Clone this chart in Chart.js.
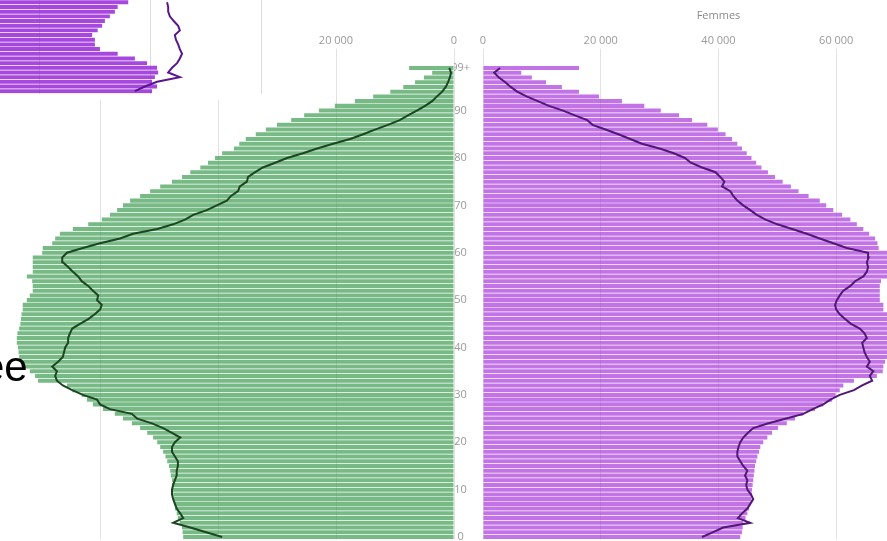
<!DOCTYPE html>
<html lang="fr">
<head>
<meta charset="utf-8">
<title>Pyramide des âges</title>
<script src="https://cdn.jsdelivr.net/npm/chart.js@4/dist/chart.umd.min.js"></script>
<style>
  html, body { margin: 0; padding: 0; background: #fff; overflow: hidden; }
  #page { position: relative; width: 887px; height: 541px; overflow: hidden; background: #fff; }
  #hommes { position: absolute; left: -28px; top: 0; }
  #femmes { position: absolute; left: 454px; top: 0; }
  #encart { position: absolute; left: 0; top: 0; background: #fff; }
  #mot { position: absolute; left: -19px; top: 346px; font: 42px/42px 'Liberation Sans', Arial, sans-serif; color: #000; white-space: nowrap; }
</style>
</head>
<body>
<div id="page">
  <canvas id="hommes" width="511" height="560"></canvas>
  <canvas id="femmes" width="520" height="560"></canvas>
  <canvas id="encart" width="300" height="100"></canvas>
  <div id="mot">ee</div>
</div>
<script>
// Ages, from 0 up to 99+
const ages = ['0','1','2','3','4','5','6','7','8','9',
  '10','11','12','13','14','15','16','17','18','19',
  '20','21','22','23','24','25','26','27','28','29',
  '30','31','32','33','34','35','36','37','38','39',
  '40','41','42','43','44','45','46','47','48','49',
  '50','51','52','53','54','55','56','57','58','59',
  '60','61','62','63','64','65','66','67','68','69',
  '70','71','72','73','74','75','76','77','78','79',
  '80','81','82','83','84','85','86','87','88','89',
  '90','91','92','93','94','95','96','97','98','99+'];

// Hommes (bars) by age
const hommes = [45900, 46000, 46100, 46500, 46800, 47000, 47300, 47400, 47500, 47600,
  47700, 47800, 47800, 48000, 48100, 48300, 48600, 48900, 49300, 49800,
  50300, 51000, 52000, 53200, 54600, 56100, 57500, 59500, 61200, 62200,
  63100, 64700, 65600, 70500, 71000, 71900, 72700, 73200, 73700, 73800,
  73900, 74100, 74100, 74000, 73700, 73500, 73400, 73300, 73100, 73100,
  72400, 71900, 71400, 71400, 71500, 72400, 71400, 71400, 71400, 71400,
  69800, 69700, 68100, 67600, 66800, 64600, 62000, 59700, 58300, 57100,
  56100, 54900, 53200, 51500, 49800, 47800, 46100, 44700, 43000, 41700,
  40500, 39300, 37300, 36400, 35300, 33600, 31900, 30000, 27600, 25400,
  22900, 20200, 16800, 13700, 10800, 8600, 6600, 5100, 3700, 7600];

// Hommes, comparison line
const hommesLigne = [39300, 42000, 44700, 47600, 45900, 46400, 47000, 47300, 47600, 47800,
  47800, 47600, 47300, 47000, 47000, 46800, 46800, 47300, 47800, 47800,
  47300, 46400, 47800, 49300, 51200, 53700, 54600, 58300, 60000, 60500,
  62900, 64700, 66300, 67300, 67600, 67300, 68100, 67100, 66300, 66100,
  65900, 65400, 65400, 65100, 64700, 63400, 62000, 60900, 60000, 59700,
  60500, 60300, 61200, 62000, 63100, 63700, 64600, 65400, 66300, 66400,
  65600, 62900, 60000, 56600, 54400, 50300, 47600, 45600, 44200, 41900,
  40200, 38500, 37800, 36600, 36300, 35100, 34900, 33700, 32400, 30300,
  28300, 25600, 23200, 20500, 17600, 15400, 13400, 11200, 9200, 7800,
  6300, 4900, 3700, 2900, 2000, 1400, 1000, 700, 500, 800];

// Femmes (bars) by age
const femmes = [43700, 44000, 44100, 44200, 44600, 44900, 45200, 45400, 45600, 45700,
  45700, 45800, 45900, 46000, 46100, 46200, 46400, 46600, 46900, 47100,
  47600, 48300, 49100, 50100, 51600, 53000, 54400, 56400, 57800, 59300,
  59900, 60600, 61200, 63000, 66900, 67900, 68000, 68300, 69000, 69500,
  69800, 70000, 70000, 69800, 69500, 69200, 69000, 68800, 68000, 68000,
  67400, 67400, 67400, 67400, 67600, 69000, 69500, 69500, 69200, 69000,
  68800, 67200, 67000, 66600, 65600, 64600, 63500, 62400, 61000, 59500,
  58300, 57200, 55300, 53600, 52300, 50900, 49600, 48400, 47300, 46400,
  45600, 44800, 44000, 43200, 42300, 41200, 39900, 38100, 35500, 33300,
  30200, 27400, 23600, 19700, 16300, 13400, 10700, 8300, 6500, 16300];

// Femmes, comparison line
const femmesLigne = [37200, 39000, 40800, 45400, 43300, 44000, 44900, 45400, 45900, 45500,
  44900, 44700, 44900, 44500, 44900, 44200, 43700, 43200, 43200, 43400,
  43700, 44200, 45000, 45900, 48500, 51500, 54400, 56000, 57800, 59000,
  60600, 63000, 64400, 66100, 65700, 66300, 65200, 65700, 65200, 64800,
  64600, 64400, 65200, 64800, 64000, 62500, 61500, 60600, 60000, 59800,
  60100, 60600, 61200, 62400, 63200, 64600, 65200, 65400, 65200, 65500,
  65400, 61800, 59500, 57200, 55000, 52500, 50000, 48000, 46500, 45400,
  44200, 43200, 42500, 42000, 40600, 41000, 40300, 39500, 37200, 35300,
  34300, 32400, 30000, 27000, 25000, 23000, 20800, 18600, 17700, 15600,
  13600, 11200, 9300, 7400, 5800, 4700, 3800, 2700, 1900, 2900];

// Axis ticks
const graduations = [0, 20000, 40000, 60000];

// Inset in the top-left corner (a piece of another pyramid)
const encartRangs = ['1','2','3','4','5','6','7','8','9','10',
  '11','12','13','14','15','16','17','18','19','20'];
const encartBarres = [55900, 54000, 53500, 52600, 51700, 51200, 50400, 49400, 49900, 49900,
  50800, 54000, 57100, 59300, 61100, 61300, 60700, 60200, 61100, 60200];
const encartLigne = [62900, 63100, 63100, 63400, 64100, 64900, 65200, 64300, 64500, 64900,
  65200, 65600, 65200, 64700, 63800, 63100, 65200, 61100, 58900, 57100];
const encartGraduations = [40000, 60000, 80000];

Chart.defaults.font.family = "'Open Sans', sans-serif";

function fmt(v) {
    return String(v).replace(/\B(?=(\d{3})+(?!\d))/g, ' ');
}

function axeValeurs(reverse) {
    return {
        position: 'top',
        reverse: reverse,
        min: 0,
        max: 80000,
        afterBuildTicks: scale => {
            scale.ticks = graduations.concat([80000]).map(v => ({ value: v }));
        },
        ticks: {
            padding: 1,
            color: '#9a9a9a',
            font: { size: 11 },
            callback: v => graduations.includes(v) ? fmt(v) : ''
        },
        grid: { color: '#e2e2e2', tickColor: '#e2e2e2', tickLength: 17 },
        border: { display: false }
    };
}

// Left side: hommes
const axeH = axeValeurs(true);
axeH.afterFit = scale => { scale.height = 65.6; };
new Chart(document.getElementById('hommes'), {
    type: 'bar',
    data: {
        labels: ages,
        datasets: [{
            type: 'line',
            indexAxis: 'y',
            data: hommesLigne,
            borderColor: '#1c4622',
            borderWidth: 2,
            pointRadius: 0,
            tension: 0,
            order: 0
        }, {
            data: hommes,
            backgroundColor: 'rgba(66, 160, 86, 0.72)',
            barPercentage: 0.85,
            categoryPercentage: 1,
            order: 1
        }]
    },
    options: {
        indexAxis: 'y',
        responsive: false,
        animation: false,
        layout: { padding: { left: 10, right: 29, top: 0, bottom: 20.6 } },
        plugins: { legend: { display: false }, tooltip: { enabled: false } },
        scales: {
            x: axeH,
            y: { reverse: true, display: false }
        }
    }
});

// Right side: femmes
const axeF = axeValeurs(false);
axeF.afterFit = scale => { scale.height = 43.4; };
new Chart(document.getElementById('femmes'), {
    type: 'bar',
    data: {
        labels: ages,
        datasets: [{
            type: 'line',
            indexAxis: 'y',
            data: femmesLigne,
            borderColor: '#521878',
            borderWidth: 2,
            pointRadius: 0,
            tension: 0,
            order: 0
        }, {
            data: femmes,
            backgroundColor: 'rgba(170, 62, 222, 0.72)',
            barPercentage: 0.85,
            categoryPercentage: 1,
            order: 1
        }]
    },
    options: {
        indexAxis: 'y',
        responsive: false,
        animation: false,
        layout: { padding: { left: 0, right: 20, top: 0, bottom: 20.6 } },
        plugins: {
            legend: { display: false },
            tooltip: { enabled: false },
            title: {
                display: true,
                text: 'Femmes',
                fullSize: false,
                color: '#8a8a8a',
                font: { size: 11, weight: 'normal' },
                padding: { top: 9, bottom: 0 }
            }
        },
        scales: {
            x: axeF,
            y: {
                reverse: true,
                grid: { display: false },
                border: { display: false },
                ticks: {
                    autoSkip: false,
                    crossAlign: 'center',
                    padding: 5,
                    color: '#9a9a9a',
                    font: { size: 11 },
                    callback: function(v, i) {
                        return (i % 10 === 0 || i === 99) ? this.getLabelForValue(v) : '';
                    }
                },
                afterFit: scale => { scale.width = 29; }
            }
        }
    }
});

// Inset
new Chart(document.getElementById('encart'), {
    type: 'bar',
    data: {
        labels: encartRangs,
        datasets: [{
            type: 'line',
            indexAxis: 'y',
            data: encartLigne,
            borderColor: '#5a168c',
            borderWidth: 2,
            pointRadius: 0,
            tension: 0,
            order: 0
        }, {
            data: encartBarres,
            backgroundColor: 'rgba(150, 40, 215, 0.85)',
            barPercentage: 0.85,
            categoryPercentage: 1,
            order: 1
        }]
    },
    options: {
        indexAxis: 'y',
        responsive: false,
        animation: false,
        layout: { padding: { left: 0, right: 0, top: 0, bottom: 6.5 } },
        plugins: { legend: { display: false }, tooltip: { enabled: false } },
        scales: {
            x: {
                min: 32800,
                max: 86850,
                afterBuildTicks: scale => {
                    scale.ticks = encartGraduations.map(v => ({ value: v }));
                },
                ticks: { display: false },
                grid: { color: '#dcdcdc', drawTicks: false },
                border: { display: false },
                afterFit: scale => { scale.height = 0; }
            },
            y: { display: false }
        }
    }
});
</script>
</body>
</html>
